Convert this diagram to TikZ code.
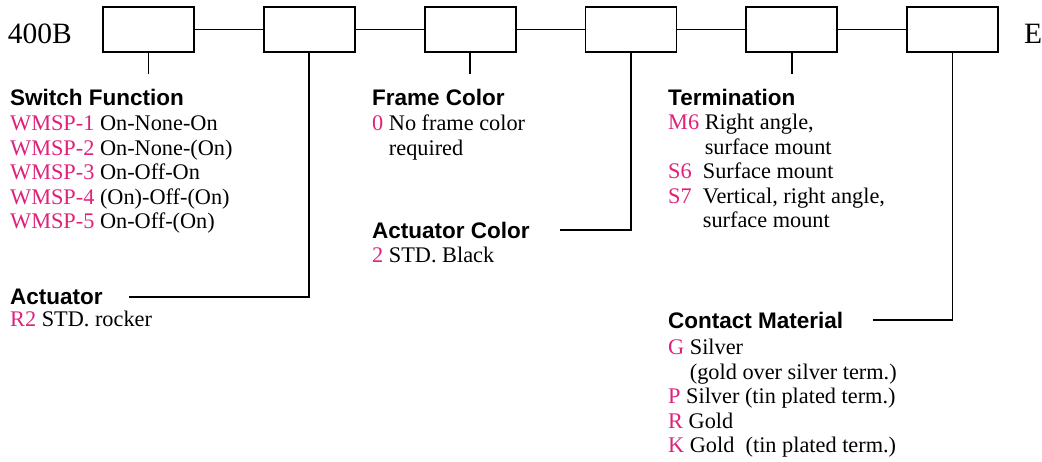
\documentclass[tikz,border=0pt]{standalone}
\usepackage{fontspec}
\setmainfont{Liberation Serif}
\setsansfont{Liberation Sans}
\usetikzlibrary{positioning}
\definecolor{codepink}{RGB}{222,34,122}
\newcommand{\code}[1]{\textcolor{codepink}{#1}}
\tikzset{
  codebox/.style={draw,line width=1.8pt,minimum width=91pt,minimum height=45pt,inner sep=0pt},
  wire/.style={line width=1.7pt},
  head/.style={anchor=west,inner sep=0pt,font=\sffamily\bfseries\fontsize{22.5}{26}\selectfont},
  item/.style={anchor=north west,inner sep=0pt,align=left,font=\fontsize{22.3}{24.5}\selectfont},
  bigtext/.style={inner sep=0pt,font=\fontsize{29.5}{29.5}\selectfont},
}
\begin{document}
\begin{tikzpicture}[x=1pt,y=-1pt]
    \useasboundingbox (0,0) rectangle (1042,462);

    % Kaestchen der Bestellnummer
    \node[codebox] (b1) at (148.5,29.5) {};
    \node[codebox,right=68pt of b1] (b2) {};
    \node[codebox,right=68pt of b2] (b3) {};
    \node[codebox,right=68pt of b3] (b4) {};
    \node[codebox,right=68pt of b4] (b5) {};
    \node[codebox,right=68pt of b5] (b6) {};
    \node[bigtext,anchor=east] (prefix) at (72,34) {400B};
    \node[bigtext,anchor=west] (suffix) at (1024,34) {E};
    \foreach \a/\b in {b1/b2,b2/b3,b3/b4,b4/b5,b5/b6}
        \draw[wire] (\a.east) -- (\b.west);

    % Switch Function
    \node[head] (swh) at (10,97) {Switch Function};
    \node[item] (swi) at (10,116) {\code{WMSP-1} On-None-On\\
        \code{WMSP-2} On-None-(On)\\
        \code{WMSP-3} On-Off-On\\
        \code{WMSP-4} (On)-Off-(On)\\
        \code{WMSP-5} On-Off-(On)};
    \draw[wire] (b1.south) -- ++(0,21);

    % Actuator
    \node[head] (acth) at (10,297) {Actuator};
    \node[item] (acti) at (10,311) {\code{R2} STD. rocker};
    \coordinate[right=26pt of acth.east] (actend);
    \draw[wire] (b2.south) |- (actend);

    % Frame Color
    \node[head] (frh) at (372,97) {Frame Color};
    \node[item] (fri) at (372,115) {\code{0} No frame color\\
        \phantom{0 }required};
    \draw[wire] (b3.south) -- ++(0,21);

    % Actuator Color
    \node[head] (ach) at (372,230) {Actuator Color};
    \node[item] (aci) at (372,247) {\code{2} STD. Black};
    \coordinate[right=30pt of ach.east] (acend);
    \draw[wire] (b4.south) |- (acend);

    % Termination
    \node[head] (teh) at (668,97) {Termination};
    \node[item] (tei) at (668,114) {\code{M6} Right angle,\\
        \phantom{M6 }surface mount\\
        \code{S6}\ \ Surface mount\\
        \code{S7}\ \ Vertical, right angle,\\
        \phantom{S7\ \ }surface mount};
    \draw[wire] (b5.south) -- ++(0,21);

    % Contact Material
    \node[head] (cmh) at (668,320) {Contact Material};
    \node[item] (cmi) at (668,339) {\code{G} Silver\\
        \phantom{G }(gold over silver term.)\\
        \code{P} Silver (tin plated term.)\\
        \code{R} Gold\\
        \code{K} Gold\ \ (tin plated term.)};
    \coordinate[right=30pt of cmh.east] (cmend);
    \draw[wire] (b6.south) |- (cmend);
\end{tikzpicture}
\end{document}
